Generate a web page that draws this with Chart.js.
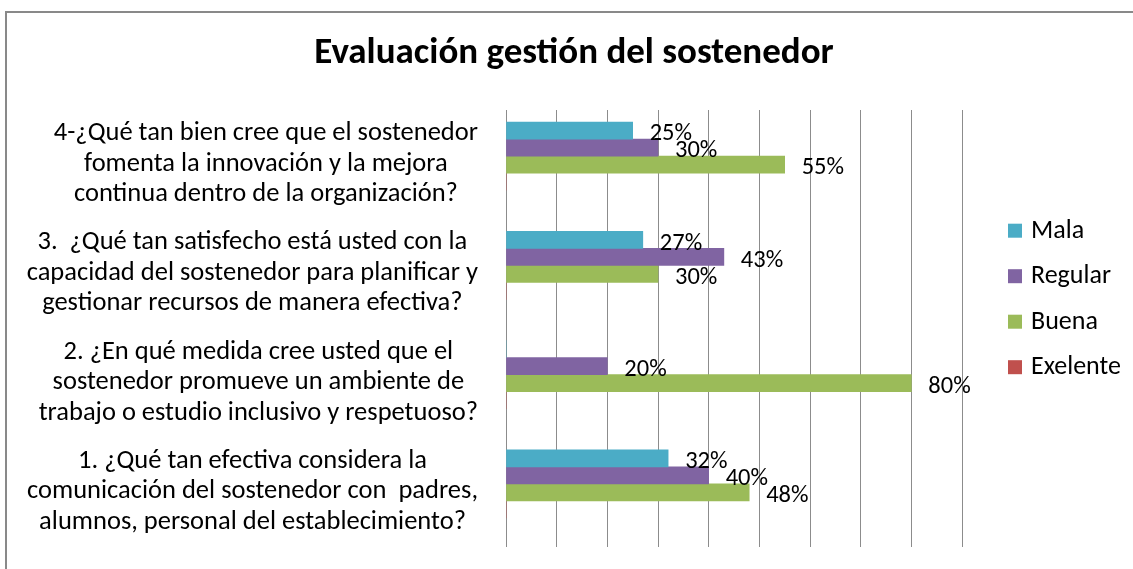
<!DOCTYPE html>
<html><head><meta charset="utf-8">
<script src="https://cdn.jsdelivr.net/npm/chart.js@4.4.1/dist/chart.umd.min.js"></script>
<style>
html,body{margin:0;padding:0;background:#fff;overflow:hidden}
#wrap{position:relative;width:1133px;height:569px;overflow:hidden}
#frame{position:absolute;left:5px;top:11px;width:1300px;height:800px;border:2px solid #898989;box-sizing:border-box;pointer-events:none}
canvas{position:absolute;left:0;top:0}
</style></head><body>
<div id="wrap"><canvas id="c" width="1133" height="569"></canvas><div id="frame"></div></div>
<script>
const TITLE = 'Evaluación gestión del sostenedor';
const categoryLabels = [
  ['1. ¿Qué tan efectiva considera la', 'comunicación del sostenedor con  padres,', 'alumnos, personal del establecimiento?'],
  ['2. ¿En qué medida cree usted que el', 'sostenedor promueve un ambiente de', 'trabajo o estudio inclusivo y respetuoso?'],
  ['3.  ¿Qué tan satisfecho está usted con la', 'capacidad del sostenedor para planificar y', 'gestionar recursos de manera efectiva?'],
  ['4-¿Qué tan bien cree que el sostenedor', 'fomenta la innovación y la mejora', 'continua dentro de la organización?']
];
const seriesNames = ['Mala', 'Regular', 'Buena', 'Exelente'];
const seriesColors = ['#4BACC6', '#8064A2', '#9BBB59', '#C0504D'];
const mala = [32, 0, 27, 25];
const regular = [40, 20, 43, 30];
const buena = [48, 80, 30, 55];
const exelente = [0, 0, 0, 0];
const xMin = 0, xMax = 90, xStep = 10;

const FONT = 'Carlito, Lato, sans-serif';
const TITLE_SIZE = 37, LBL_SIZE = 26.5, LEG_SIZE = 26, VAL_SIZE = 24.5;

const datasets = seriesNames.map((n, i) => ({
  label: n,
  data: [mala, regular, buena, exelente][i],
  backgroundColor: seriesColors[i],
  borderWidth: 0
}));
// empty slot reproducing the spacing of the original grouping
datasets.push({ label: '', data: [], backgroundColor: 'rgba(0,0,0,0)' });

const decor = {
  id: 'decor',
  afterDatasetsDraw(chart) {
    const ctx = chart.ctx;
    ctx.save();
    ctx.font = VAL_SIZE + 'px ' + FONT;
    ctx.fillStyle = '#000';
    ctx.textAlign = 'left';
    ctx.textBaseline = 'alphabetic';
    chart.data.datasets.forEach((ds, di) => {
      if (!ds.label) return;
      const meta = chart.getDatasetMeta(di);
      meta.data.forEach((bar, i) => {
        const v = ds.data[i];
        if (!v) return;
        ctx.fillText(v + '%', bar.x + 17, bar.y + 9.7);
      });
    });
    ctx.restore();
  },
  afterDraw(chart) {
    const ctx = chart.ctx;
    const ys = chart.scales.y;
    ctx.save();
    ctx.fillStyle = '#000';
    ctx.textBaseline = 'alphabetic';
    ctx.textAlign = 'center';
    ctx.font = 'bold ' + TITLE_SIZE + 'px ' + FONT;
    ctx.fillText(TITLE, 574, 63);
    ctx.font = LBL_SIZE + 'px ' + FONT;
    chart.data.labels.forEach((lines, i) => {
      const cy = ys.getPixelForValue(i);
      const widest = Math.max(...lines.map(l => ctx.measureText(l).width));
      const cx = 478 - widest / 2;
      lines.forEach((l, k) => ctx.fillText(l, cx, cy - 24.5 + k * 30.5));
    });
    ctx.textAlign = 'left';
    ctx.font = LEG_SIZE + 'px ' + FONT;
    seriesNames.forEach((n, i) => {
      const base = 237.7 + i * 45.5;
      ctx.fillStyle = seriesColors[i];
      ctx.fillRect(1008, base - 14, 14, 14);
      ctx.fillStyle = '#000';
      ctx.fillText(n, 1031, base);
    });
    ctx.restore();
  }
};

new Chart(document.getElementById('c'), {
  type: 'bar',
  data: { labels: categoryLabels, datasets },
  options: {
    indexAxis: 'y',
    responsive: false,
    animation: false,
    barThickness: 17,
    layout: { padding: { left: 0, right: 171, top: 110, bottom: 22 } },
    plugins: { legend: { display: false }, title: { display: false }, tooltip: { enabled: false } },
    scales: {
      x: {
        min: xMin, max: xMax,
        ticks: { display: false, stepSize: xStep },
        grid: { color: '#8c8c8c', lineWidth: 1, drawTicks: false },
        border: { display: false },
        afterFit(s) { s.height = 0; }
      },
      y: {
        reverse: true,
        ticks: { display: false },
        grid: { display: false },
        border: { display: false },
        afterFit(s) { s.width = 506; }
      }
    }
  },
  plugins: [decor]
});
</script>
</body></html>
